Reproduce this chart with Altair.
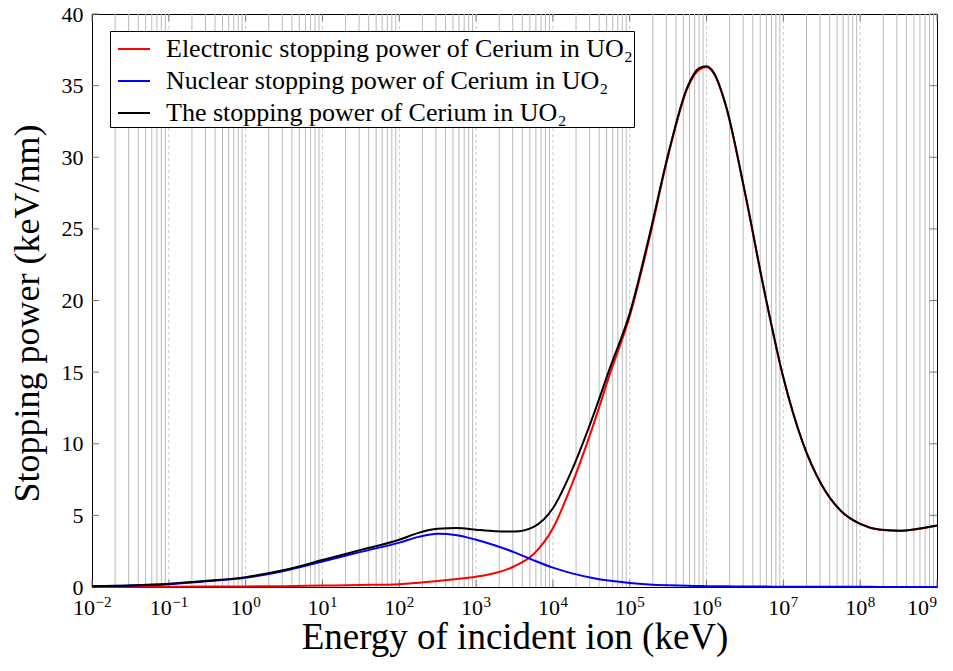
import altair as alt
import pandas as pd

# ---------------- data ----------------
log_energy = [-2, -1.5, -1, -0.5, 0, 0.5, 1, 1.5, 2, 2.25, 2.5, 2.75, 3, 3.25, 3.5, 3.75,
              4, 4.25, 4.5, 4.75, 5, 5.25, 5.5, 5.75, 5.9, 6, 6.1, 6.25, 6.5, 6.75,
              7, 7.25, 7.5, 7.75, 8, 8.25, 8.5, 8.75, 9]

electronic = [0.0, 0.01, 0.02, 0.03, 0.04, 0.06, 0.1, 0.14, 0.2, 0.3, 0.42, 0.56, 0.72, 0.98,
              1.45, 2.3, 4.1, 7.2, 10.9, 15.0, 18.9, 24.2, 30.1, 34.8, 36.1, 36.3, 35.8,
              33.6, 27.5, 20.7, 14.6, 10.1, 7.1, 5.3, 4.4, 4.0, 3.92, 4.05, 4.28]

nuclear = [0.06, 0.1, 0.2, 0.4, 0.65, 1.12, 1.78, 2.45, 3.1, 3.5, 3.72, 3.62, 3.3, 2.9,
           2.42, 1.86, 1.35, 0.95, 0.65, 0.43, 0.28, 0.18, 0.12, 0.08, 0.07, 0.06, 0.05,
           0.045, 0.035, 0.028, 0.022, 0.018, 0.015, 0.012, 0.01, 0.008, 0.007, 0.006, 0.005]

total = [0.06, 0.11, 0.22, 0.43, 0.69, 1.18, 1.88, 2.59, 3.3, 3.78, 4.06, 4.12, 4.0, 3.9,
         3.87, 4.2, 5.5, 8.2, 11.6, 15.4, 19.1, 24.4, 30.2, 34.9, 36.2, 36.35, 35.85,
         33.65, 27.55, 20.73, 14.62, 10.12, 7.12, 5.31, 4.41, 4.01, 3.93, 4.06, 4.29]

series_names = ["Electronic stopping power of Cerium in UO\u2082",
                "Nuclear stopping power of Cerium in UO\u2082",
                "The stopping power of Cerium in UO\u2082"]
series_colors = ["#ff0000", "#0000ff", "#000000"]

decade_exponents = list(range(-2, 10))
y_ticks = [0, 5, 10, 15, 20, 25, 30, 35, 40]

# ---------------- tables ----------------
rows = []
for name, vals in zip(series_names, [electronic, nuclear, total]):
    for le, v in zip(log_energy, vals):
        rows.append({"energy": 10.0 ** le, "S": v, "series": name})
df = pd.DataFrame(rows)

decades = [10.0 ** e for e in decade_exponents]
minor_grid = pd.DataFrame({"energy": [k * 10.0 ** d for d in range(-2, 9) for k in range(2, 10)]})
major_grid = pd.DataFrame({"energy": [10.0 ** d for d in range(-1, 9)]})
decade_df = pd.DataFrame({"energy": decades,
                          "e": decade_exponents,
                          "exponent": [str(e).replace("-", "\u2212") for e in decade_exponents]})
ytick_df = pd.DataFrame({"S": y_ticks})

W, H = 845, 573
FONT = "Liberation Serif"

x_scale = alt.Scale(type="log", domain=[1e-2, 1e9], nice=False)
y_scale = alt.Scale(domain=[0, 40], nice=False)

x_axis = alt.Axis(values=decades, labels=False, grid=False, ticks=False, tickSize=0,
                  domain=False,
                  title="Energy of incident ion (keV)", titleFont=FONT, titleFontSize=37,
                  titleFontWeight="normal", titleColor="black", titleY=61,
                  titleBaseline="alphabetic")
y_axis = alt.Axis(values=y_ticks, grid=False, ticks=False, tickSize=0, domain=False,
                  labelFont=FONT, labelFontSize=22, labelPadding=9, labelColor="black",
                  labelFlush=False, labelOverlap=False,
                  title="Stopping power (keV/nm)", titleFont=FONT, titleFontSize=36,
                  titleFontWeight="normal", titleColor="black", titleAngle=270,
                  titleX=-54, titleY=299, titleBaseline="alphabetic")

X = alt.X("energy:Q", scale=x_scale, axis=x_axis)
Y = alt.Y("S:Q", scale=y_scale, axis=y_axis)

minor_layer = alt.Chart(minor_grid).mark_rule(color="#bababa", strokeWidth=1).encode(x=X)
major_layer = alt.Chart(major_grid).mark_rule(color="#c8c8c8", strokeWidth=1,
                                              strokeDash=[3, 3]).encode(x=X)

ytick_left = alt.Chart(ytick_df).mark_rule(color="#777777", strokeWidth=1).encode(
    y=Y, x=alt.value(0), x2=alt.value(7))
ytick_right = alt.Chart(ytick_df).mark_rule(color="#777777", strokeWidth=1).encode(
    y=Y, x=alt.value(W - 7), x2=alt.value(W))
xtick_bottom = alt.Chart(decade_df).mark_rule(color="#777777", strokeWidth=1).encode(
    x=X, y=alt.value(H - 7), y2=alt.value(H))
xtick_top = alt.Chart(decade_df).mark_rule(color="#777777", strokeWidth=1).encode(
    x=X, y=alt.value(0), y2=alt.value(7))


# x tick labels "10" with a raised exponent
def tick_label_layers(test, base_dx, exp_dx):
    base = alt.Chart(decade_df).transform_filter(test).mark_text(
        font=FONT, fontSize=22, align="right", baseline="alphabetic", dx=base_dx,
        color="black").encode(x=X, y=alt.value(H + 28), text=alt.value("10"))
    expo = alt.Chart(decade_df).transform_filter(test).mark_text(
        font=FONT, fontSize=15, align="left", baseline="alphabetic", dx=exp_dx,
        color="black").encode(x=X, y=alt.value(H + 20), text="exponent:N")
    return [base, expo]


tick_labels = (tick_label_layers("datum.e < 0", 3, 3.5)
               + tick_label_layers("datum.e >= 0 && datum.e < 9", 7, 7.5)
               + tick_label_layers("datum.e >= 9", -8, -7.5))

color = alt.Color("series:N",
                  scale=alt.Scale(domain=series_names, range=series_colors),
                  sort=series_names,
                  legend=alt.Legend(orient="none", legendX=18, legendY=17, title=None,
                                    strokeColor="black", fillColor="white", padding=1,
                                    labelFont=FONT, labelFontSize=26, labelLimit=800,
                                    labelColor="black", symbolType="stroke",
                                    symbolSize=1024, symbolStrokeWidth=2,
                                    symbolOffset=6, labelOffset=15,
                                    rowPadding=2, cornerRadius=0))

line_layers = [
    alt.Chart(df).transform_filter(alt.datum.series == name)
    .mark_line(strokeWidth=2, interpolate="monotone")
    .encode(x=X, y=Y, color=color)
    for name in series_names
]

chart = alt.layer(minor_layer, major_layer, ytick_left, ytick_right, xtick_bottom, xtick_top,
                  *tick_labels, *line_layers).properties(
    width=W, height=H,
    autosize=alt.AutoSizeParams(type="none"),
    padding={"left": 84, "top": 6, "right": 8, "bottom": 70},
    background="white",
).configure_view(stroke="black", strokeWidth=1)

chart.save("out.html", embed_options={"renderer": "svg", "actions": False})
